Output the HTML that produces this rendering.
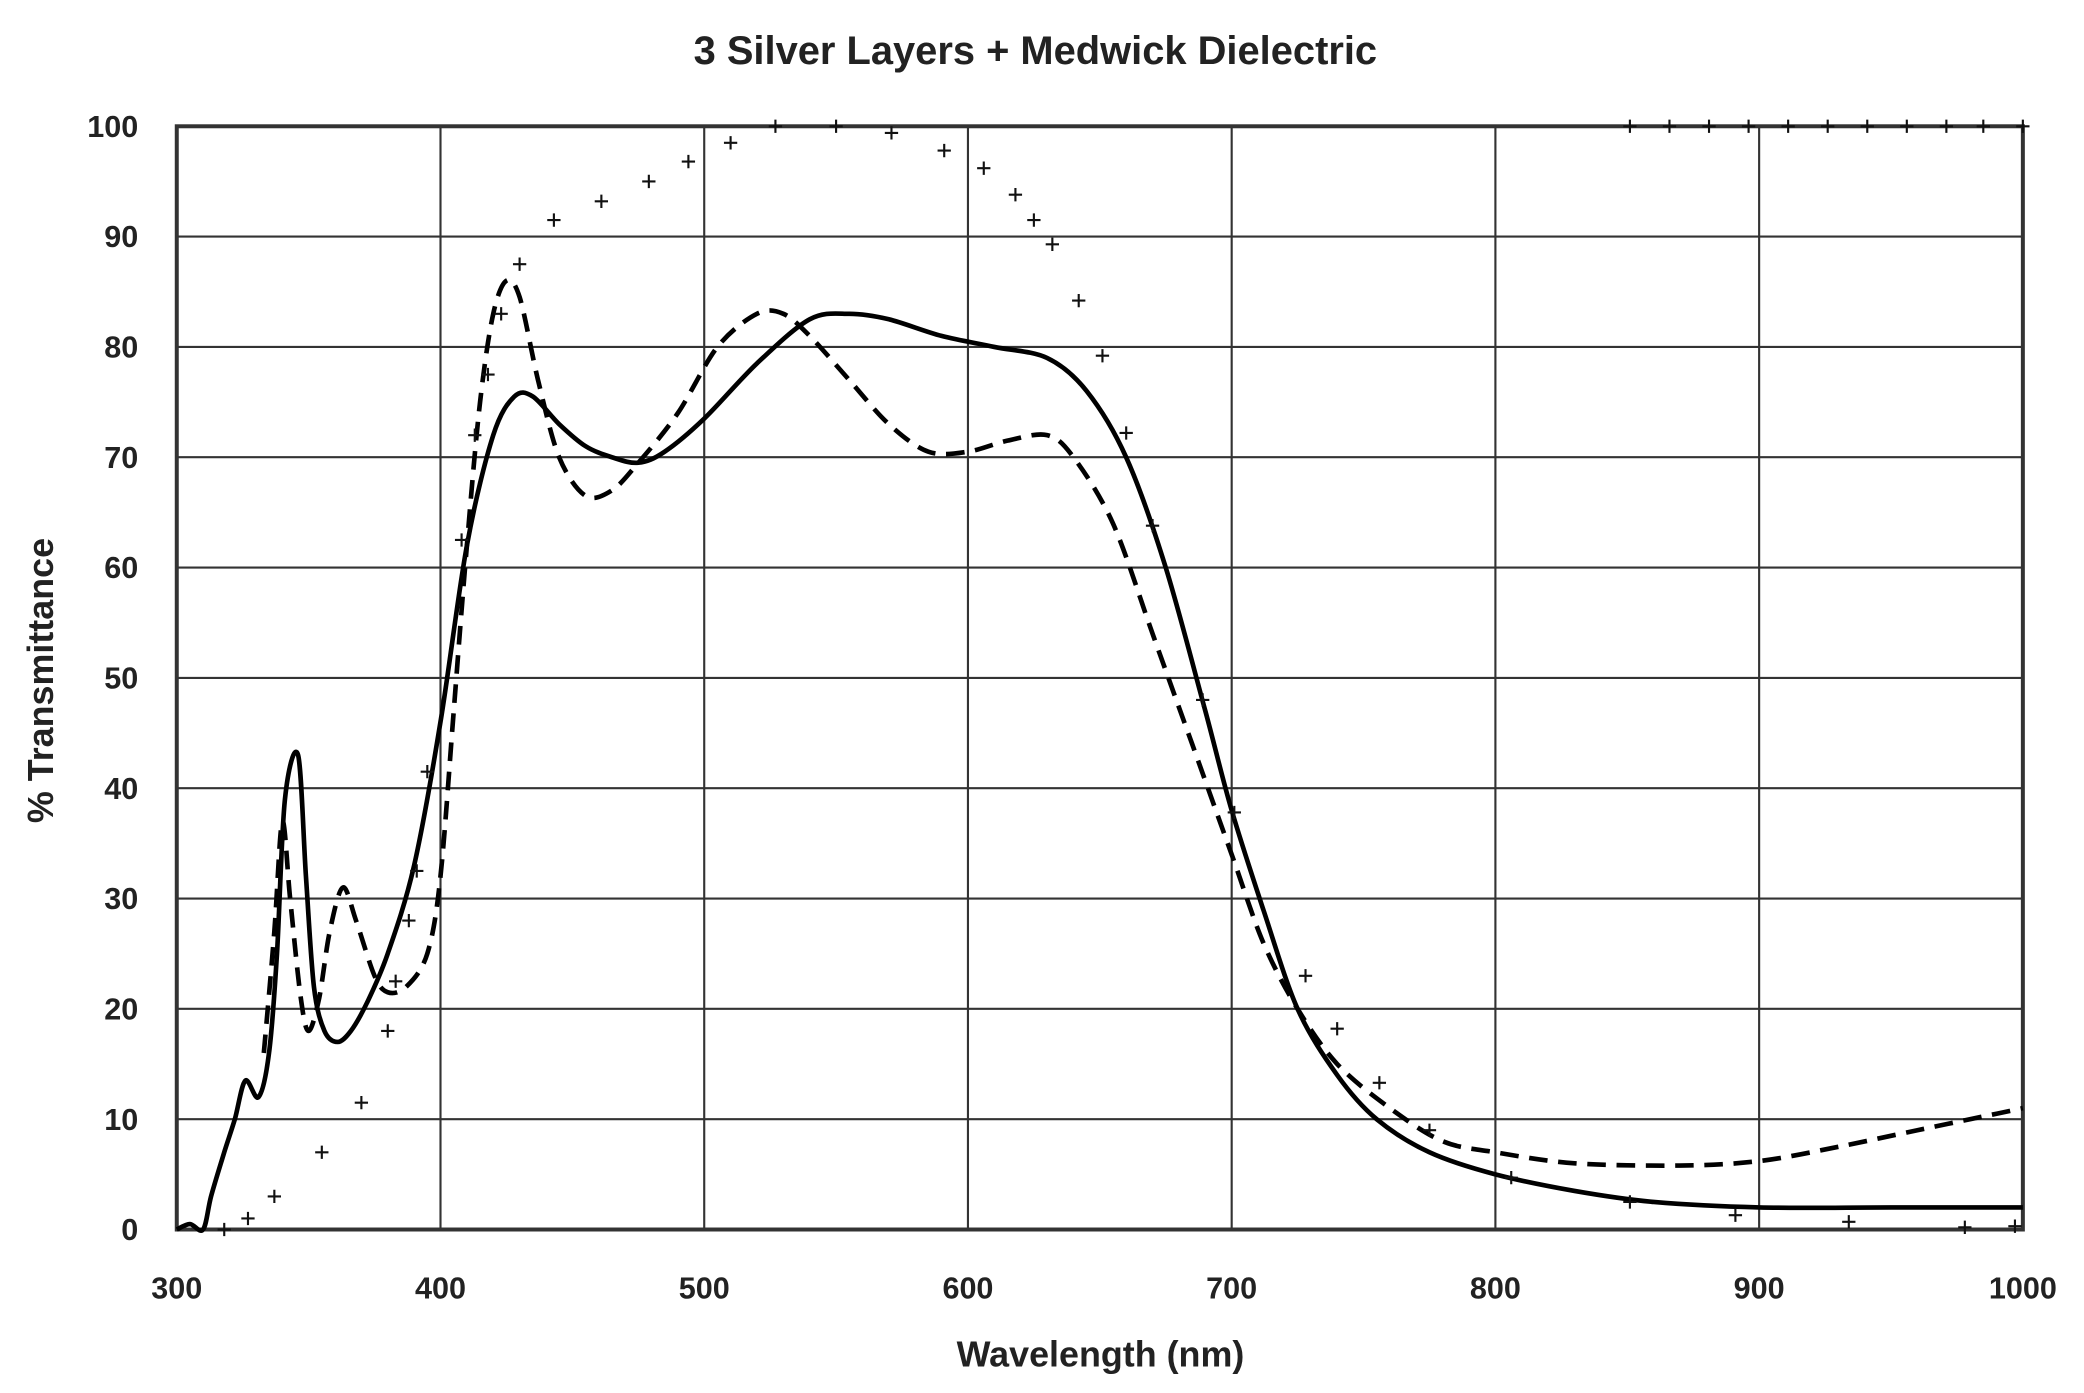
<!DOCTYPE html>
<html><head><meta charset="utf-8"><style>
html,body{margin:0;padding:0;background:#fff;}
svg{display:block;}
text{font-family:"Liberation Sans",sans-serif;font-weight:bold;fill:#222;}
</style></head><body>
<svg id="s" width="2084" height="1393" viewBox="0 0 1568 1048" preserveAspectRatio="none" xmlns="http://www.w3.org/2000/svg">
<rect width="1568" height="1048" fill="#fff"/>
<g id="grid" stroke="#333" stroke-width="1.6"></g>
<g id="lab"></g>
<text x="779" y="48" font-size="30" text-anchor="middle">3 Silver Layers + Medwick Dielectric</text>
<text x="828" y="1028" font-size="27" text-anchor="middle">Wavelength (nm)</text>
<text transform="translate(40,512) rotate(-90)" font-size="27" text-anchor="middle">% Transmittance</text>
<g id="ser"></g>
</svg>
<script>
const X=w=>133+(w-300)*(1522-133)/700, Y=v=>925-v*8.3;
const ns="http://www.w3.org/2000/svg";
function el(p,t,a,txt){const e=document.createElementNS(ns,t);for(const k in a)e.setAttribute(k,a[k]);if(txt!==undefined)e.textContent=txt;document.getElementById(p).appendChild(e);return e;}
for(let v=0;v<=100;v+=10){el('grid','line',{x1:133,x2:1522,y1:Y(v),y2:Y(v)});el('lab','text',{x:104,y:Y(v)+8,'font-size':23,'text-anchor':'end'},v);}
for(let w=300;w<=1000;w+=100){el('grid','line',{x1:X(w),x2:X(w),y1:95,y2:925});el('lab','text',{x:X(w),y:977,'font-size':23,'text-anchor':'middle'},w);}
el('grid','rect',{x:133,y:95,width:1389,height:830,fill:'none','stroke-width':3});
const solid=[[300,0],[305,0.5],[310,0],[313,3],[318,7],[322,10],[326,13.5],[331,12],[335,16],[338,25],[341,39],[346,43],[349,32],[352,22],[356,18],[361,17],[366,18],[372,20.5],[380,25],[390,33],[400,46],[410,62],[420,72],[428,75.5],[435,75.5],[445,73],[455,71],[465,70],[475,69.5],[485,70.5],[500,73.5],[520,78.5],[540,82.5],[555,83],[570,82.5],[590,81],[610,80],[630,79],[645,76],[660,70],[675,60],[690,47],[700,38],[712,29],[725,20],[740,14],[755,10],[775,7],[800,5],[830,3.5],[860,2.5],[900,2],[950,2],[1000,2]];
const dash=[[333,16],[337,27],[340,37],[343,30],[347,21],[350,18],[354,21],[358,27],[363,31],[368,28],[375,23],[380,21.5],[387,22],[395,25],[400,32],[405,47],[410,62],[415,75],[420,83],[425,86],[430,84.5],[437,77],[445,70],[455,66.5],[465,67],[475,69.5],[490,74],[505,80],[520,83],[530,83],[540,81],[555,77],[570,73],[585,70.5],[600,70.5],[615,71.5],[630,72],[640,70],[655,64],[670,54],[685,44],[700,34],[712,26],[725,20],[740,15],[760,11],[780,8],[800,7],[830,6],[870,5.8],[900,6.2],[930,7.5],[960,9],[990,10.5],[1000,11]];
function pd(a){const P=a.map(p=>[X(p[0]),Y(p[1])]);let d='M'+P[0][0].toFixed(1)+','+P[0][1].toFixed(1);
for(let i=0;i<P.length-1;i++){const p0=P[Math.max(i-1,0)],p1=P[i],p2=P[i+1],p3=P[Math.min(i+2,P.length-1)];const t=0.16;
d+=`C${(p1[0]+(p2[0]-p0[0])*t).toFixed(1)},${(p1[1]+(p2[1]-p0[1])*t).toFixed(1)} ${(p2[0]-(p3[0]-p1[0])*t).toFixed(1)},${(p2[1]-(p3[1]-p1[1])*t).toFixed(1)} ${p2[0].toFixed(1)},${p2[1].toFixed(1)}`;}return d;}
el('ser','path',{d:pd(dash),fill:'none',stroke:'#000','stroke-width':3.5,'stroke-dasharray':'14,8','stroke-linejoin':'round'});
el('ser','path',{d:pd(solid),fill:'none',stroke:'#000','stroke-width':3.5,'stroke-linejoin':'round'});
const pl=[[318,0],[327,1],[337,3],[355,7],[370,11.5],[380,18],[383,22.5],[388,28],[391,32.5],[395,41.5],[408,62.5],[413,72],[418,77.5],[423,83],[430,87.5],[443,91.5],[461,93.2],[479,95],[494,96.8],[510,98.5],[527,100],[550,100],[571,99.4],[591,97.8],[606,96.2],[618,93.8],[625,91.5],[632,89.3],[642,84.2],[651,79.2],[660,72.2],[670,63.8],[689,48],[701,37.8],[728,23],[740,18.2],[756,13.3],[775,9],[806,4.7],[851,2.5],[891,1.3],[934,0.7],[978,0.2],[997,0.3]];
for(const w of [851,866,881,896,911,926,941,956,971,985,1000])pl.push([w,100]);
let d='';for(const p of pl){const x=X(p[0]),y=Y(p[1]);d+=`M${x-5},${y}h10M${x},${y-5}v10`;}
el('ser','path',{d:d,stroke:'#111','stroke-width':1.6,fill:'none'});
</script>
</body></html>
